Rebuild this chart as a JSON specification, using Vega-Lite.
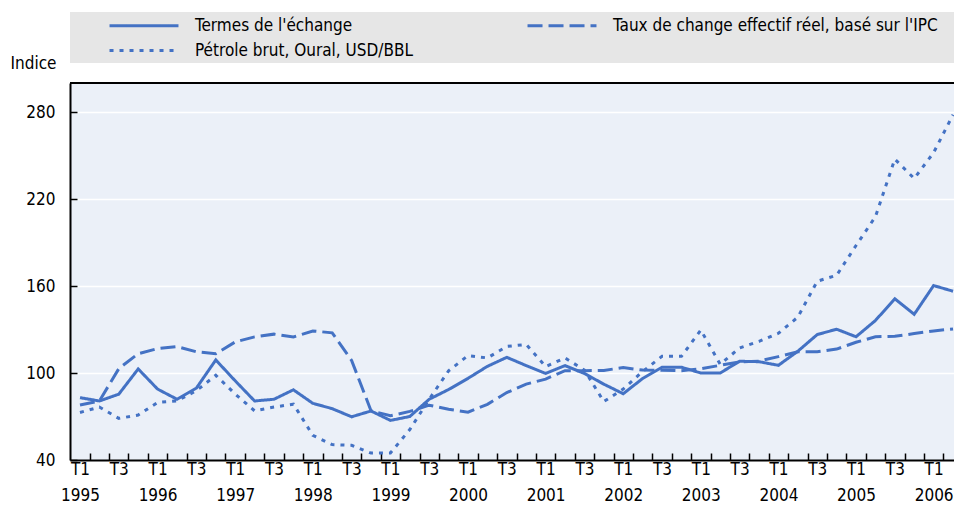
{
  "$schema": "https://vega.github.io/schema/vega-lite/v6.json",
  "autosize": {"type": "none"},
  "padding": {"left": 70, "top": 83, "right": 0, "bottom": 55},
  "width": 884,
  "height": 377,
  "background": "white",
  "config": {
    "font": "Liberation Sans Narrow, Arial Narrow, DejaVu Sans Condensed, sans-serif",
    "view": {"stroke": null, "fill": "#ebf0f8"}
  },
  "data": {
    "values": [
      {"t": 0, "serie": "Termes de l'échange", "v": 83},
      {"t": 1, "serie": "Termes de l'échange", "v": 80.7},
      {"t": 2, "serie": "Termes de l'échange", "v": 85.4},
      {"t": 3, "serie": "Termes de l'échange", "v": 102.8},
      {"t": 4, "serie": "Termes de l'échange", "v": 88.9},
      {"t": 5, "serie": "Termes de l'échange", "v": 81.9},
      {"t": 6, "serie": "Termes de l'échange", "v": 89.6},
      {"t": 7, "serie": "Termes de l'échange", "v": 109},
      {"t": 8, "serie": "Termes de l'échange", "v": 94.6},
      {"t": 9, "serie": "Termes de l'échange", "v": 80.7},
      {"t": 10, "serie": "Termes de l'échange", "v": 81.9},
      {"t": 11, "serie": "Termes de l'échange", "v": 88.4},
      {"t": 12, "serie": "Termes de l'échange", "v": 79.1},
      {"t": 13, "serie": "Termes de l'échange", "v": 75.4},
      {"t": 14, "serie": "Termes de l'échange", "v": 69.8},
      {"t": 15, "serie": "Termes de l'échange", "v": 73.8},
      {"t": 16, "serie": "Termes de l'échange", "v": 67.3},
      {"t": 17, "serie": "Termes de l'échange", "v": 70},
      {"t": 18, "serie": "Termes de l'échange", "v": 81.9},
      {"t": 19, "serie": "Termes de l'échange", "v": 88.6},
      {"t": 20, "serie": "Termes de l'échange", "v": 96.3},
      {"t": 21, "serie": "Termes de l'échange", "v": 104.6},
      {"t": 22, "serie": "Termes de l'échange", "v": 110.8},
      {"t": 23, "serie": "Termes de l'échange", "v": 105.1},
      {"t": 24, "serie": "Termes de l'échange", "v": 99.7},
      {"t": 25, "serie": "Termes de l'échange", "v": 105.1},
      {"t": 26, "serie": "Termes de l'échange", "v": 99.7},
      {"t": 27, "serie": "Termes de l'échange", "v": 92.3},
      {"t": 28, "serie": "Termes de l'échange", "v": 85.7},
      {"t": 29, "serie": "Termes de l'échange", "v": 96.2},
      {"t": 30, "serie": "Termes de l'échange", "v": 104},
      {"t": 31, "serie": "Termes de l'échange", "v": 104},
      {"t": 32, "serie": "Termes de l'échange", "v": 100},
      {"t": 33, "serie": "Termes de l'échange", "v": 100},
      {"t": 34, "serie": "Termes de l'échange", "v": 108.1},
      {"t": 35, "serie": "Termes de l'échange", "v": 107.8},
      {"t": 36, "serie": "Termes de l'échange", "v": 105.3},
      {"t": 37, "serie": "Termes de l'échange", "v": 115},
      {"t": 38, "serie": "Termes de l'échange", "v": 126.5},
      {"t": 39, "serie": "Termes de l'échange", "v": 130.2},
      {"t": 40, "serie": "Termes de l'échange", "v": 125},
      {"t": 41, "serie": "Termes de l'échange", "v": 136.2},
      {"t": 42, "serie": "Termes de l'échange", "v": 151.2},
      {"t": 43, "serie": "Termes de l'échange", "v": 140.5},
      {"t": 44, "serie": "Termes de l'échange", "v": 160.3},
      {"t": 45, "serie": "Termes de l'échange", "v": 156.4},
      {"t": 0, "serie": "Taux de change effectif réel, basé sur l'IPC", "v": 77.9},
      {"t": 1, "serie": "Taux de change effectif réel, basé sur l'IPC", "v": 80.7},
      {"t": 2, "serie": "Taux de change effectif réel, basé sur l'IPC", "v": 103},
      {"t": 3, "serie": "Taux de change effectif réel, basé sur l'IPC", "v": 113.3},
      {"t": 4, "serie": "Taux de change effectif réel, basé sur l'IPC", "v": 116.8},
      {"t": 5, "serie": "Taux de change effectif réel, basé sur l'IPC", "v": 118.2},
      {"t": 6, "serie": "Taux de change effectif réel, basé sur l'IPC", "v": 114.6},
      {"t": 7, "serie": "Taux de change effectif réel, basé sur l'IPC", "v": 113.3},
      {"t": 8, "serie": "Taux de change effectif réel, basé sur l'IPC", "v": 121.4},
      {"t": 9, "serie": "Taux de change effectif réel, basé sur l'IPC", "v": 124.9},
      {"t": 10, "serie": "Taux de change effectif réel, basé sur l'IPC", "v": 126.8},
      {"t": 11, "serie": "Taux de change effectif réel, basé sur l'IPC", "v": 124.8},
      {"t": 12, "serie": "Taux de change effectif réel, basé sur l'IPC", "v": 129},
      {"t": 13, "serie": "Taux de change effectif réel, basé sur l'IPC", "v": 127.7},
      {"t": 14, "serie": "Taux de change effectif réel, basé sur l'IPC", "v": 108.7},
      {"t": 15, "serie": "Taux de change effectif réel, basé sur l'IPC", "v": 74},
      {"t": 16, "serie": "Taux de change effectif réel, basé sur l'IPC", "v": 70.5},
      {"t": 17, "serie": "Taux de change effectif réel, basé sur l'IPC", "v": 73.5},
      {"t": 18, "serie": "Taux de change effectif réel, basé sur l'IPC", "v": 77.8},
      {"t": 19, "serie": "Taux de change effectif réel, basé sur l'IPC", "v": 75},
      {"t": 20, "serie": "Taux de change effectif réel, basé sur l'IPC", "v": 73},
      {"t": 21, "serie": "Taux de change effectif réel, basé sur l'IPC", "v": 78.4},
      {"t": 22, "serie": "Taux de change effectif réel, basé sur l'IPC", "v": 86.5},
      {"t": 23, "serie": "Taux de change effectif réel, basé sur l'IPC", "v": 92.3},
      {"t": 24, "serie": "Taux de change effectif réel, basé sur l'IPC", "v": 95.8},
      {"t": 25, "serie": "Taux de change effectif réel, basé sur l'IPC", "v": 101.6},
      {"t": 26, "serie": "Taux de change effectif réel, basé sur l'IPC", "v": 101.6},
      {"t": 27, "serie": "Taux de change effectif réel, basé sur l'IPC", "v": 101.8},
      {"t": 28, "serie": "Taux de change effectif réel, basé sur l'IPC", "v": 103.7},
      {"t": 29, "serie": "Taux de change effectif réel, basé sur l'IPC", "v": 102},
      {"t": 30, "serie": "Taux de change effectif réel, basé sur l'IPC", "v": 101.9},
      {"t": 31, "serie": "Taux de change effectif réel, basé sur l'IPC", "v": 101.6},
      {"t": 32, "serie": "Taux de change effectif réel, basé sur l'IPC", "v": 103},
      {"t": 33, "serie": "Taux de change effectif réel, basé sur l'IPC", "v": 105.3},
      {"t": 34, "serie": "Taux de change effectif réel, basé sur l'IPC", "v": 107.6},
      {"t": 35, "serie": "Taux de change effectif réel, basé sur l'IPC", "v": 108.2},
      {"t": 36, "serie": "Taux de change effectif réel, basé sur l'IPC", "v": 111.3},
      {"t": 37, "serie": "Taux de change effectif réel, basé sur l'IPC", "v": 114.6},
      {"t": 38, "serie": "Taux de change effectif réel, basé sur l'IPC", "v": 114.6},
      {"t": 39, "serie": "Taux de change effectif réel, basé sur l'IPC", "v": 116.5},
      {"t": 40, "serie": "Taux de change effectif réel, basé sur l'IPC", "v": 121.2},
      {"t": 41, "serie": "Taux de change effectif réel, basé sur l'IPC", "v": 125},
      {"t": 42, "serie": "Taux de change effectif réel, basé sur l'IPC", "v": 125.3},
      {"t": 43, "serie": "Taux de change effectif réel, basé sur l'IPC", "v": 127.2},
      {"t": 44, "serie": "Taux de change effectif réel, basé sur l'IPC", "v": 129},
      {"t": 45, "serie": "Taux de change effectif réel, basé sur l'IPC", "v": 130.4},
      {"t": 0, "serie": "Pétrole brut, Oural, USD/BBL", "v": 72.8},
      {"t": 1, "serie": "Pétrole brut, Oural, USD/BBL", "v": 76.5},
      {"t": 2, "serie": "Pétrole brut, Oural, USD/BBL", "v": 68.7},
      {"t": 3, "serie": "Pétrole brut, Oural, USD/BBL", "v": 71},
      {"t": 4, "serie": "Pétrole brut, Oural, USD/BBL", "v": 79.7},
      {"t": 5, "serie": "Pétrole brut, Oural, USD/BBL", "v": 80.8},
      {"t": 6, "serie": "Pétrole brut, Oural, USD/BBL", "v": 87.8},
      {"t": 7, "serie": "Pétrole brut, Oural, USD/BBL", "v": 98.4},
      {"t": 8, "serie": "Pétrole brut, Oural, USD/BBL", "v": 85.5},
      {"t": 9, "serie": "Pétrole brut, Oural, USD/BBL", "v": 73.9},
      {"t": 10, "serie": "Pétrole brut, Oural, USD/BBL", "v": 76.5},
      {"t": 11, "serie": "Pétrole brut, Oural, USD/BBL", "v": 78.5},
      {"t": 12, "serie": "Pétrole brut, Oural, USD/BBL", "v": 57},
      {"t": 13, "serie": "Pétrole brut, Oural, USD/BBL", "v": 50.6},
      {"t": 14, "serie": "Pétrole brut, Oural, USD/BBL", "v": 50.1},
      {"t": 15, "serie": "Pétrole brut, Oural, USD/BBL", "v": 44.8},
      {"t": 16, "serie": "Pétrole brut, Oural, USD/BBL", "v": 44.8},
      {"t": 17, "serie": "Pétrole brut, Oural, USD/BBL", "v": 61},
      {"t": 18, "serie": "Pétrole brut, Oural, USD/BBL", "v": 81.9},
      {"t": 19, "serie": "Pétrole brut, Oural, USD/BBL", "v": 101.5},
      {"t": 20, "serie": "Pétrole brut, Oural, USD/BBL", "v": 112},
      {"t": 21, "serie": "Pétrole brut, Oural, USD/BBL", "v": 110.4},
      {"t": 22, "serie": "Pétrole brut, Oural, USD/BBL", "v": 118.3},
      {"t": 23, "serie": "Pétrole brut, Oural, USD/BBL", "v": 119.7},
      {"t": 24, "serie": "Pétrole brut, Oural, USD/BBL", "v": 104.4},
      {"t": 25, "serie": "Pétrole brut, Oural, USD/BBL", "v": 110.4},
      {"t": 26, "serie": "Pétrole brut, Oural, USD/BBL", "v": 102},
      {"t": 27, "serie": "Pétrole brut, Oural, USD/BBL", "v": 80.3},
      {"t": 28, "serie": "Pétrole brut, Oural, USD/BBL", "v": 88.9},
      {"t": 29, "serie": "Pétrole brut, Oural, USD/BBL", "v": 101},
      {"t": 30, "serie": "Pétrole brut, Oural, USD/BBL", "v": 111.5},
      {"t": 31, "serie": "Pétrole brut, Oural, USD/BBL", "v": 111.5},
      {"t": 32, "serie": "Pétrole brut, Oural, USD/BBL", "v": 129.6},
      {"t": 33, "serie": "Pétrole brut, Oural, USD/BBL", "v": 106},
      {"t": 34, "serie": "Pétrole brut, Oural, USD/BBL", "v": 117.3},
      {"t": 35, "serie": "Pétrole brut, Oural, USD/BBL", "v": 121.8},
      {"t": 36, "serie": "Pétrole brut, Oural, USD/BBL", "v": 127.4},
      {"t": 37, "serie": "Pétrole brut, Oural, USD/BBL", "v": 138.5},
      {"t": 38, "serie": "Pétrole brut, Oural, USD/BBL", "v": 163.3},
      {"t": 39, "serie": "Pétrole brut, Oural, USD/BBL", "v": 167.4},
      {"t": 40, "serie": "Pétrole brut, Oural, USD/BBL", "v": 187.9},
      {"t": 41, "serie": "Pétrole brut, Oural, USD/BBL", "v": 207.8},
      {"t": 42, "serie": "Pétrole brut, Oural, USD/BBL", "v": 247.5},
      {"t": 43, "serie": "Pétrole brut, Oural, USD/BBL", "v": 234.1},
      {"t": 44, "serie": "Pétrole brut, Oural, USD/BBL", "v": 252},
      {"t": 45, "serie": "Pétrole brut, Oural, USD/BBL", "v": 278.1}
    ]
  },
  "layer": [
    {
      "mark": {"type": "line", "strokeWidth": 3, "color": "#4472c4", "strokeJoin": "miter", "strokeCap": "butt"},
      "encoding": {
        "x": {
          "field": "t",
          "type": "quantitative",
          "scale": {"domain": [-0.515, 45.05], "nice": false, "zero": false},
          "axis": {
            "values": [0, 0.5, 1.5, 2, 2.5, 3.5, 4, 4.5, 5.5, 6, 6.5, 7.5, 8, 8.5, 9.5, 10, 10.5, 11.5, 12, 12.5, 13.5, 14, 14.5, 15.5, 16, 16.5, 17.5, 18, 18.5, 19.5, 20, 20.5, 21.5, 22, 22.5, 23.5, 24, 24.5, 25.5, 26, 26.5, 27.5, 28, 28.5, 29.5, 30, 30.5, 31.5, 32, 32.5, 33.5, 34, 34.5, 35.5, 36, 36.5, 37.5, 38, 38.5, 39.5, 40, 40.5, 41.5, 42, 42.5, 43.5, 44, 44.5],
            "labelExpr": "datum.value % 4 === 0 ? ['T1', '' + (1995 + datum.value / 4)] : (datum.value % 4 === 2 ? 'T3' : '')",
            "tickOpacity": {"condition": {"test": "datum.value % 1 !== 0", "value": 1}, "value": 0},
            "tickSize": -7,
            "tickColor": "#000",
            "tickWidth": 1.5,
            "domainColor": "#000",
            "domainWidth": 2,
            "grid": false,
            "title": null,
            "labelFontSize": 17,
            "labelColor": "#000",
            "labelPadding": 8,
            "labelLineHeight": 26,
            "labelBaseline": "top",
            "labelAlign": "center",
            "labelFlush": false,
            "labelOverlap": false,
            "labelBound": false
          }
        },
        "y": {
          "field": "v",
          "type": "quantitative",
          "scale": {"domain": [40, 300], "nice": false, "zero": false},
          "axis": {
            "values": [40, 100, 160, 220, 280],
            "grid": true,
            "gridColor": "#ffffff",
            "gridWidth": 1.5,
            "gridOpacity": {"condition": {"test": "datum.value === 40", "value": 0}, "value": 1},
            "tickSize": -7,
            "tickColor": "#000",
            "tickWidth": 1.5,
            "domainColor": "#000",
            "domainWidth": 2,
            "labelFontSize": 17,
            "labelColor": "#000",
            "labelPadding": 22,
            "title": "Indice",
            "titleAngle": 0,
            "titleX": -60,
            "titleY": -15,
            "titleAlign": "left",
            "titleBaseline": "alphabetic",
            "titleFontSize": 17,
            "titleFontWeight": "normal",
            "titleColor": "#000"
          }
        },
        "strokeDash": {
          "field": "serie",
          "type": "nominal",
          "scale": {
            "domain": ["Termes de l'échange", "Taux de change effectif réel, basé sur l'IPC", "Pétrole brut, Oural, USD/BBL"],
            "range": [[1, 0], [15, 6], [4, 6]]
          },
          "legend": {
            "orient": "none",
            "legendX": 0,
            "legendY": -71,
            "direction": "horizontal",
            "columns": 2,
            "title": "\u00a0",
            "titleOrient": "right",
            "titlePadding": 12,
            "titleFontSize": 17,
            "fillColor": "#e6e6e6",
            "padding": 4,
            "symbolType": "M-4.31,0H4.31",
            "symbolSize": 256,
            "symbolStrokeWidth": 3,
            "symbolStrokeColor": "#4472c4",
            "symbolFillColor": "transparent",
            "symbolOffset": 60.5,
            "labelOffset": 41.5,
            "labelFontSize": 17,
            "labelColor": "#000",
            "labelLimit": 0,
            "columnPadding": 79,
            "rowPadding": 7
          }
        }
      }
    },
    {
      "mark": {"type": "rule", "color": "#000", "strokeWidth": 2},
      "encoding": {"y": {"datum": 300}}
    }
  ]
}
